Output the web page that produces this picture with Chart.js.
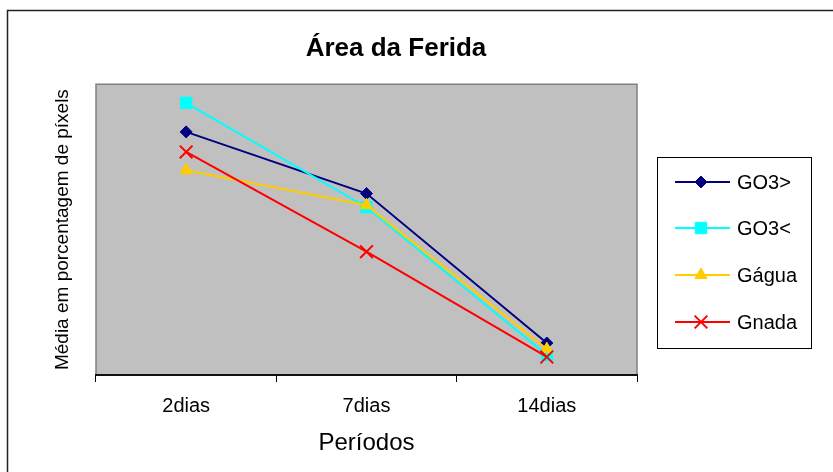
<!DOCTYPE html>
<html>
<head>
<meta charset="utf-8">
<script src="https://cdn.jsdelivr.net/npm/chart.js@4/dist/chart.umd.min.js"></script>
<style>
  html, body { margin: 0; padding: 0; background: #fff; }
  #wrap { width: 833px; height: 472px; }
</style>
</head>
<body>
<div id="wrap"><canvas id="graficaFerida" width="833" height="472"></canvas></div>
<script>
// datos (escala 0-100 supuesta)
const periodos = ['2dias', '7dias', '14dias'];
const go3Mayor = [83.6, 62.4, 11.0];
const go3Menor = [93.6, 57.7, 6.9];
const gAgua = [70.4, 58.4, 8.9];
const gNada = [76.7, 42.4, 6.2];

const fuente = '"Liberation Sans", Arial, sans-serif';

// fondo gris del área de trazado y marco exterior
const fondoPlot = {
    id: 'fondoPlot',
    beforeDraw(chart) {
        const { ctx, chartArea: a } = chart;
        ctx.save();
        ctx.fillStyle = '#C0C0C0';
        ctx.fillRect(a.left, a.top, a.right - a.left, a.bottom - a.top);
        ctx.strokeStyle = '#808080';
        ctx.lineWidth = 1.5;
        ctx.beginPath();
        ctx.moveTo(a.left, a.bottom);
        ctx.lineTo(a.left, a.top);
        ctx.lineTo(a.right, a.top);
        ctx.lineTo(a.right, a.bottom);
        ctx.stroke();
        // marco del gráfico
        ctx.strokeStyle = '#222';
        ctx.lineWidth = 1.5;
        ctx.beginPath();
        ctx.moveTo(7.5, chart.height);
        ctx.lineTo(7.5, 10.5);
        ctx.lineTo(chart.width, 10.5);
        ctx.stroke();
        ctx.restore();
    }
};

// leyenda con caja, dibujada a mano
const leyenda = {
    id: 'leyenda',
    afterDraw(chart) {
        const { ctx } = chart;
        ctx.save();
        ctx.fillStyle = '#fff';
        ctx.fillRect(657, 157, 154, 191);
        ctx.strokeStyle = '#000';
        ctx.lineWidth = 1;
        ctx.strokeRect(657.5, 157.5, 154, 191);
        const filas = [182, 228, 275, 322];
        chart.data.datasets.forEach((ds, i) => {
            const y = filas[i];
            ctx.strokeStyle = ds.borderColor;
            ctx.lineWidth = 2;
            ctx.beginPath();
            ctx.moveTo(675, y);
            ctx.lineTo(730, y);
            ctx.stroke();
            ctx.fillStyle = ds.pointBackgroundColor;
            ctx.strokeStyle = ds.borderColor;
            ctx.lineWidth = ds.pointBorderWidth;
            Chart.helpers.drawPoint(ctx, { pointStyle: ds.pointStyle, radius: ds.pointRadius, rotation: 0, borderWidth: ds.pointBorderWidth }, 701, y);
            ctx.fillStyle = '#000';
            ctx.font = '20px ' + fuente;
            ctx.textBaseline = 'middle';
            ctx.textAlign = 'left';
            ctx.fillText(ds.label, 737, y + 1);
        });
        ctx.restore();
    }
};

function serie(label, data, color, estilo, radio, borde, orden) {
    return {
        label: label,
        data: data,
        borderColor: color,
        backgroundColor: color,
        pointBackgroundColor: color,
        pointBorderColor: color,
        pointStyle: estilo,
        pointRadius: radio,
        pointHoverRadius: radio,
        pointBorderWidth: borde,
        borderWidth: 2,
        tension: 0,
        order: orden
    };
}

const ctx = document.getElementById('graficaFerida');
new Chart(ctx, {
    type: 'line',
    data: {
        labels: periodos,
        datasets: [
            serie('GO3>', go3Mayor, '#000080', 'rectRot', 6, 1, 3),
            serie('GO3<', go3Menor, '#00FFFF', 'rect', 8, 1, 2),
            serie('Gágua', gAgua, '#FFCC00', 'triangle', 7, 1, 1),
            serie('Gnada', gNada, '#FF0000', 'crossRot', 9, 2, 0)
        ]
    },
    options: {
        responsive: false,
        animation: false,
        layout: { padding: { left: 0, right: 41, top: 0, bottom: 0 } },
        plugins: {
            legend: { display: false },
            tooltip: { enabled: false },
            title: {
                display: true,
                text: 'Área da Ferida',
                color: '#000',
                font: { family: fuente, size: 26, weight: 'bold' },
                padding: { top: 33, bottom: 20 }
            }
        },
        scales: {
            x: {
                offset: true,
                grid: { display: true, drawOnChartArea: false, offset: true, tickLength: 7, color: '#000', lineWidth: 1 },
                border: { display: true, color: '#111', width: 2 },
                ticks: { color: '#000', padding: 12, font: { family: fuente, size: 20 } },
                title: { display: true, text: 'Períodos', color: '#000', font: { family: fuente, size: 24 }, padding: { top: 0, bottom: 14 } },
                afterFit(scale) { scale.height = 97; }
            },
            y: {
                min: 0,
                max: 100,
                grid: { display: false },
                border: { display: false },
                ticks: { display: false },
                title: { display: true, text: 'Média em porcentagem de píxels', color: '#000', font: { family: fuente, size: 19 }, padding: { top: 51, bottom: 0 } },
                afterFit(scale) { scale.width = 96; }
            },
            // eje vacío a la derecha para dejar sitio a la leyenda
            yDer: {
                position: 'right',
                min: 0,
                max: 100,
                grid: { display: false },
                border: { display: false },
                ticks: { display: false },
                afterFit(scale) { scale.width = 155; }
            }
        }
    },
    plugins: [fondoPlot, leyenda]
});
</script>
</body>
</html>
